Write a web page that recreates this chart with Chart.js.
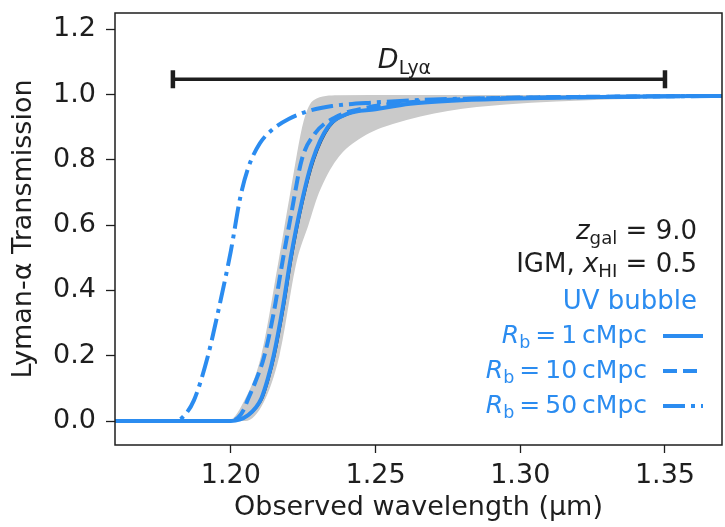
<!DOCTYPE html>
<html>
<head>
<meta charset="utf-8">
<script src="https://cdn.jsdelivr.net/npm/chart.js@4"></script>
<style>
  html, body { margin: 0; padding: 0; background: #fff; }
  #wrap { width: 725px; height: 527px; }
</style>
</head>
<body>
<div id="wrap"><canvas id="lyaChart" width="725" height="527"></canvas></div>
<script>
// --- data ---
const xTicks = [1.20, 1.25, 1.30, 1.35];
const yTicks = [0.0, 0.2, 0.4, 0.6, 0.8, 1.0, 1.2];

// R_b = 1 cMpc (solid)
const waveRb1 = [1.16, 1.200, 1.203, 1.206, 1.2085, 1.2105, 1.2128, 1.2148, 1.218, 1.2207, 1.2245, 1.2283, 1.2335, 1.240, 1.250, 1.262, 1.278, 1.298, 1.32, 1.35, 1.37];
const transRb1 = [0, 0, 0.004, 0.018, 0.04, 0.068, 0.13, 0.2, 0.35, 0.5, 0.67, 0.8, 0.9, 0.94, 0.955, 0.972, 0.982, 0.988, 0.992, 0.995, 0.996];

// R_b = 10 cMpc (dashed)
const waveRb10 = [1.16, 1.200, 1.2025, 1.2045, 1.2058, 1.2085, 1.2115, 1.2148, 1.2179, 1.2210, 1.2245, 1.229, 1.236, 1.247, 1.26, 1.275, 1.295, 1.32, 1.35, 1.37];
const transRb10 = [0, 0, 0.01, 0.035, 0.064, 0.12, 0.196, 0.33, 0.49, 0.64, 0.8, 0.88, 0.93, 0.96, 0.975, 0.984, 0.99, 0.993, 0.995, 0.996];

// R_b = 50 cMpc (dash-dot)
const waveRb50 = [1.16, 1.181, 1.1834, 1.1873, 1.192, 1.196, 1.200, 1.2034, 1.2062, 1.2100, 1.2140, 1.2200, 1.227, 1.235, 1.25, 1.27, 1.30, 1.33, 1.37];
const transRb50 = [0, 0, 0.012, 0.064, 0.196, 0.35, 0.52, 0.69, 0.78, 0.85, 0.89, 0.925, 0.95, 0.965, 0.976, 0.985, 0.99, 0.993, 0.996];

// IGM-only median (thin dark line under the solid one)
const waveIgm = [1.16, 1.2005, 1.2035, 1.2065, 1.209, 1.211, 1.2133, 1.2153, 1.2185, 1.2212, 1.225, 1.2289, 1.2342, 1.241, 1.251, 1.263, 1.28, 1.31, 1.37];
const transIgm = [0, 0, 0.004, 0.018, 0.04, 0.068, 0.13, 0.2, 0.35, 0.5, 0.67, 0.8, 0.9, 0.94, 0.955, 0.972, 0.982, 0.99, 0.996];

// IGM scatter band (grey)
const bandLowWave = [1.16, 1.205, 1.2115, 1.2168, 1.2228, 1.2268, 1.2305, 1.2365, 1.2455, 1.256, 1.275, 1.295, 1.33, 1.37];
const bandLowTrans = [0, 0, 0.06, 0.2, 0.49, 0.6, 0.7, 0.8, 0.87, 0.91, 0.95, 0.97, 0.985, 0.993];
const bandHighWave = [1.16, 1.199, 1.2045, 1.2105, 1.2165, 1.2207, 1.2252, 1.2286, 1.237, 1.26, 1.37];
const bandHighTrans = [0, 0, 0.06, 0.2, 0.49, 0.707, 0.92, 0.983, 0.998, 0.999, 0.999];

// D_Lya range bar and its label position
const dLyaWave = [1.18, 1.35];
const dLyaLevel = [1.047, 1.047];
const dLyaLabelWave = 1.26;

const blue = '#2b8cf0';
const ink = '#1e1e1e';
const FONT = '"DejaVu Sans", sans-serif';

function pts(xs, ys) {
  return xs.map((x, i) => ({ x: x, y: ys[i] }));
}

// draw a mathtext-like run of segments
function richWidth(ctx, segs, size) {
  let w = 0;
  segs.forEach(s => {
    const fs = s.sub ? size * 0.7 : size;
    ctx.font = (s.italic ? 'oblique ' : '') + fs + 'px ' + FONT;
    w += ctx.measureText(s.t).width;
  });
  return w;
}
function drawRich(ctx, segs, x, y, size, color, align) {
  const w = richWidth(ctx, segs, size);
  let cx = align === 'center' ? x - w / 2 : x - w;
  ctx.fillStyle = color;
  ctx.textBaseline = 'middle';
  ctx.textAlign = 'left';
  segs.forEach(s => {
    const fs = s.sub ? size * 0.7 : size;
    ctx.font = (s.italic ? 'oblique ' : '') + fs + 'px ' + FONT;
    ctx.fillText(s.t, cx, y + (s.sub ? size * 0.28 : 0));
    cx += ctx.measureText(s.t).width;
  });
}

const annotations = {
  id: 'annotations',
  afterDraw(chart) {
    const ctx = chart.ctx;
    const a = chart.chartArea;
    const xs = chart.scales.x, ys = chart.scales.y;
    ctx.save();

    // frame
    ctx.strokeStyle = ink;
    ctx.lineWidth = 1.5;
    ctx.strokeRect(a.left, a.top, a.right - a.left, a.bottom - a.top);

    // D_Lya label above the range bar
    drawRich(ctx, [{ t: 'D', italic: true }, { t: 'Lyα', sub: true }], xs.getPixelForValue(dLyaLabelWave), ys.getPixelForValue(dLyaLevel[0]) - 18, 27, ink, 'center');

    const rx = a.right - 25;
    const th = '\u2009';
    drawRich(ctx, [{ t: 'z', italic: true }, { t: 'gal', sub: true }, { t: ' = 9.0' }], rx, a.top + 219, 26, ink);
    drawRich(ctx, [{ t: 'IGM, ' }, { t: 'x', italic: true }, { t: 'HI', sub: true }, { t: ' = 0.5' }], rx, a.top + 252, 26, ink);
    drawRich(ctx, [{ t: 'UV bubble' }], rx, a.top + 289, 26, blue);

    // custom legend: labels to the left, line samples on the right
    const rows = [
      { label: '1', ds: 0, y: a.top + 323 },
      { label: '10', ds: 1, y: a.top + 358 },
      { label: '50', ds: 2, y: a.top + 393 }
    ];
    rows.forEach(r => {
      drawRich(ctx, [{ t: 'R', italic: true }, { t: 'b', sub: true }, { t: th + '=' + th + r.label + th + 'cMpc' }], a.right - 75, r.y, 25, blue);
      const d = chart.data.datasets[r.ds];
      ctx.beginPath();
      ctx.setLineDash(d.borderDash || []);
      ctx.strokeStyle = d.borderColor;
      ctx.lineWidth = d.borderWidth;
      ctx.moveTo(a.right - 59, r.y);
      ctx.lineTo(a.right - 19, r.y);
      ctx.stroke();
    });
    ctx.setLineDash([]);
    ctx.restore();
  }
};

const lineDefaults = {
  pointRadius: 0,
  fill: false,
  cubicInterpolationMode: 'monotone',
  borderCapStyle: 'butt'
};

new Chart(document.getElementById('lyaChart'), {
  type: 'line',
  data: {
    datasets: [
      Object.assign({}, lineDefaults, { label: 'Rb = 1 cMpc', data: pts(waveRb1, transRb1), borderColor: blue, borderWidth: 4, order: 1 }),
      Object.assign({}, lineDefaults, { label: 'Rb = 10 cMpc', data: pts(waveRb10, transRb10), borderColor: blue, borderWidth: 4, borderDash: [14, 6], order: 2 }),
      Object.assign({}, lineDefaults, { label: 'Rb = 50 cMpc', data: pts(waveRb50, transRb50), borderColor: blue, borderWidth: 4, borderDash: [22, 6, 4, 6], order: 3 }),
      Object.assign({}, lineDefaults, { label: 'IGM', data: pts(waveIgm, transIgm), borderColor: '#333', borderWidth: 1.2, order: 4 }),
      Object.assign({}, lineDefaults, { label: 'band low', data: pts(bandLowWave, bandLowTrans), borderColor: 'rgba(0,0,0,0)', borderWidth: 0, order: 6 }),
      Object.assign({}, lineDefaults, { label: 'band high', data: pts(bandHighWave, bandHighTrans), borderColor: 'rgba(0,0,0,0)', borderWidth: 0, fill: '-1', backgroundColor: '#cacaca', order: 5 }),
      {
        label: 'D_Lya', data: pts(dLyaWave, dLyaLevel), borderColor: ink, borderWidth: 3.5,
        pointStyle: 'line', pointRotation: 90, pointRadius: 9, pointBorderWidth: 4.5,
        pointBorderColor: ink, fill: false, order: 0
      }
    ]
  },
  options: {
    responsive: false,
    animation: false,
    events: [],
    layout: { autoPadding: false, padding: { top: 13, right: 3, left: 0, bottom: 0 } },
    plugins: { legend: { display: false }, tooltip: { enabled: false } },
    scales: {
      x: {
        type: 'linear', min: 1.16, max: 1.3697,
        afterFit: s => { s.height = 82; s.paddingLeft = 0; s.paddingRight = 0; },
        afterBuildTicks: s => { s.ticks = xTicks.map(v => ({ value: v })); },
        border: { display: false },
        grid: { drawOnChartArea: false, drawTicks: true, tickLength: 8, tickColor: ink, tickWidth: 1.3 },
        ticks: { color: ink, font: { family: FONT, size: 27 }, padding: 7, maxRotation: 0, callback: v => v.toFixed(2) },
        title: { display: true, text: 'Observed wavelength (μm)', color: ink, font: { family: FONT, size: 27 }, padding: { top: 0, bottom: 3 } }
      },
      y: {
        type: 'linear', min: -0.0735, max: 1.25,
        afterFit: s => { s.width = 115; s.paddingTop = 0; s.paddingBottom = 0; },
        afterBuildTicks: s => { s.ticks = yTicks.map(v => ({ value: v })); },
        border: { display: false },
        grid: { drawOnChartArea: false, drawTicks: true, tickLength: 9, tickColor: ink, tickWidth: 1.3 },
        ticks: { color: ink, font: { family: FONT, size: 27 }, padding: 10, callback: v => v.toFixed(1) },
        title: { display: true, text: 'Lyman-α Transmission', color: ink, font: { family: FONT, size: 27 }, padding: { top: 8, bottom: 0 } }
      }
    }
  },
  plugins: [annotations]
});
</script>
</body>
</html>
